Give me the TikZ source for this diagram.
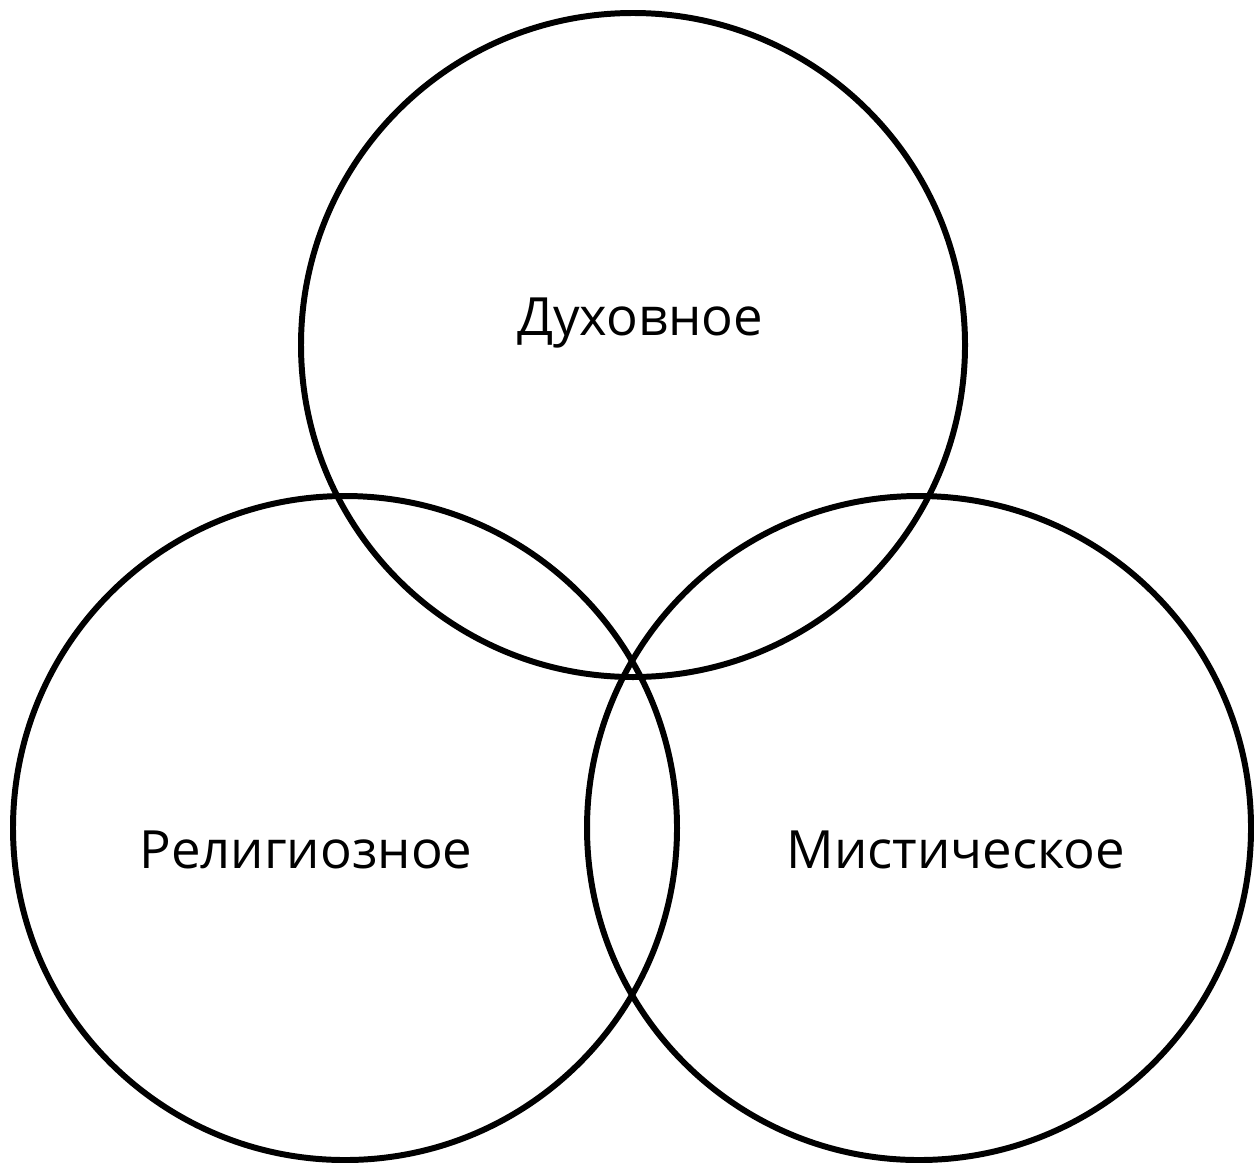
\documentclass[tikz,border=0pt]{standalone}
\usepackage{fontspec}
\setmainfont{Open Sans}
\usetikzlibrary{positioning}

\begin{document}
\begin{tikzpicture}[
  every node/.style={font=\fontsize{15}{18}\selectfont},
  sphere/.style={circle, draw=black, line width=1.7pt, minimum size=6.64cm, inner sep=0pt},
  lbl/.style={anchor=base, inner sep=0pt},
]

% ── Cadre ────────────────────────────────────────────────────────────
\useasboundingbox (0, 0) rectangle (12.54, 11.62);

% ── Cercles ──────────────────────────────────────────────────────────
\node[sphere] (spirit) at (6.33, 8.17) {};
\node[sphere] (relig)  at (3.45, 3.34) {};
\node[sphere] (myst)   at (9.19, 3.34) {};

% ── Étiquettes ───────────────────────────────────────────────────────
\node[lbl] (spiritlbl) at (6.40, 8.27) {Духовное};
\node[lbl] (religlbl)  at (3.06, 2.94) {Религиозное};
\node[lbl] (mystlbl)   at (9.56, 2.94) {Мистическое};

\end{tikzpicture}
\end{document}
